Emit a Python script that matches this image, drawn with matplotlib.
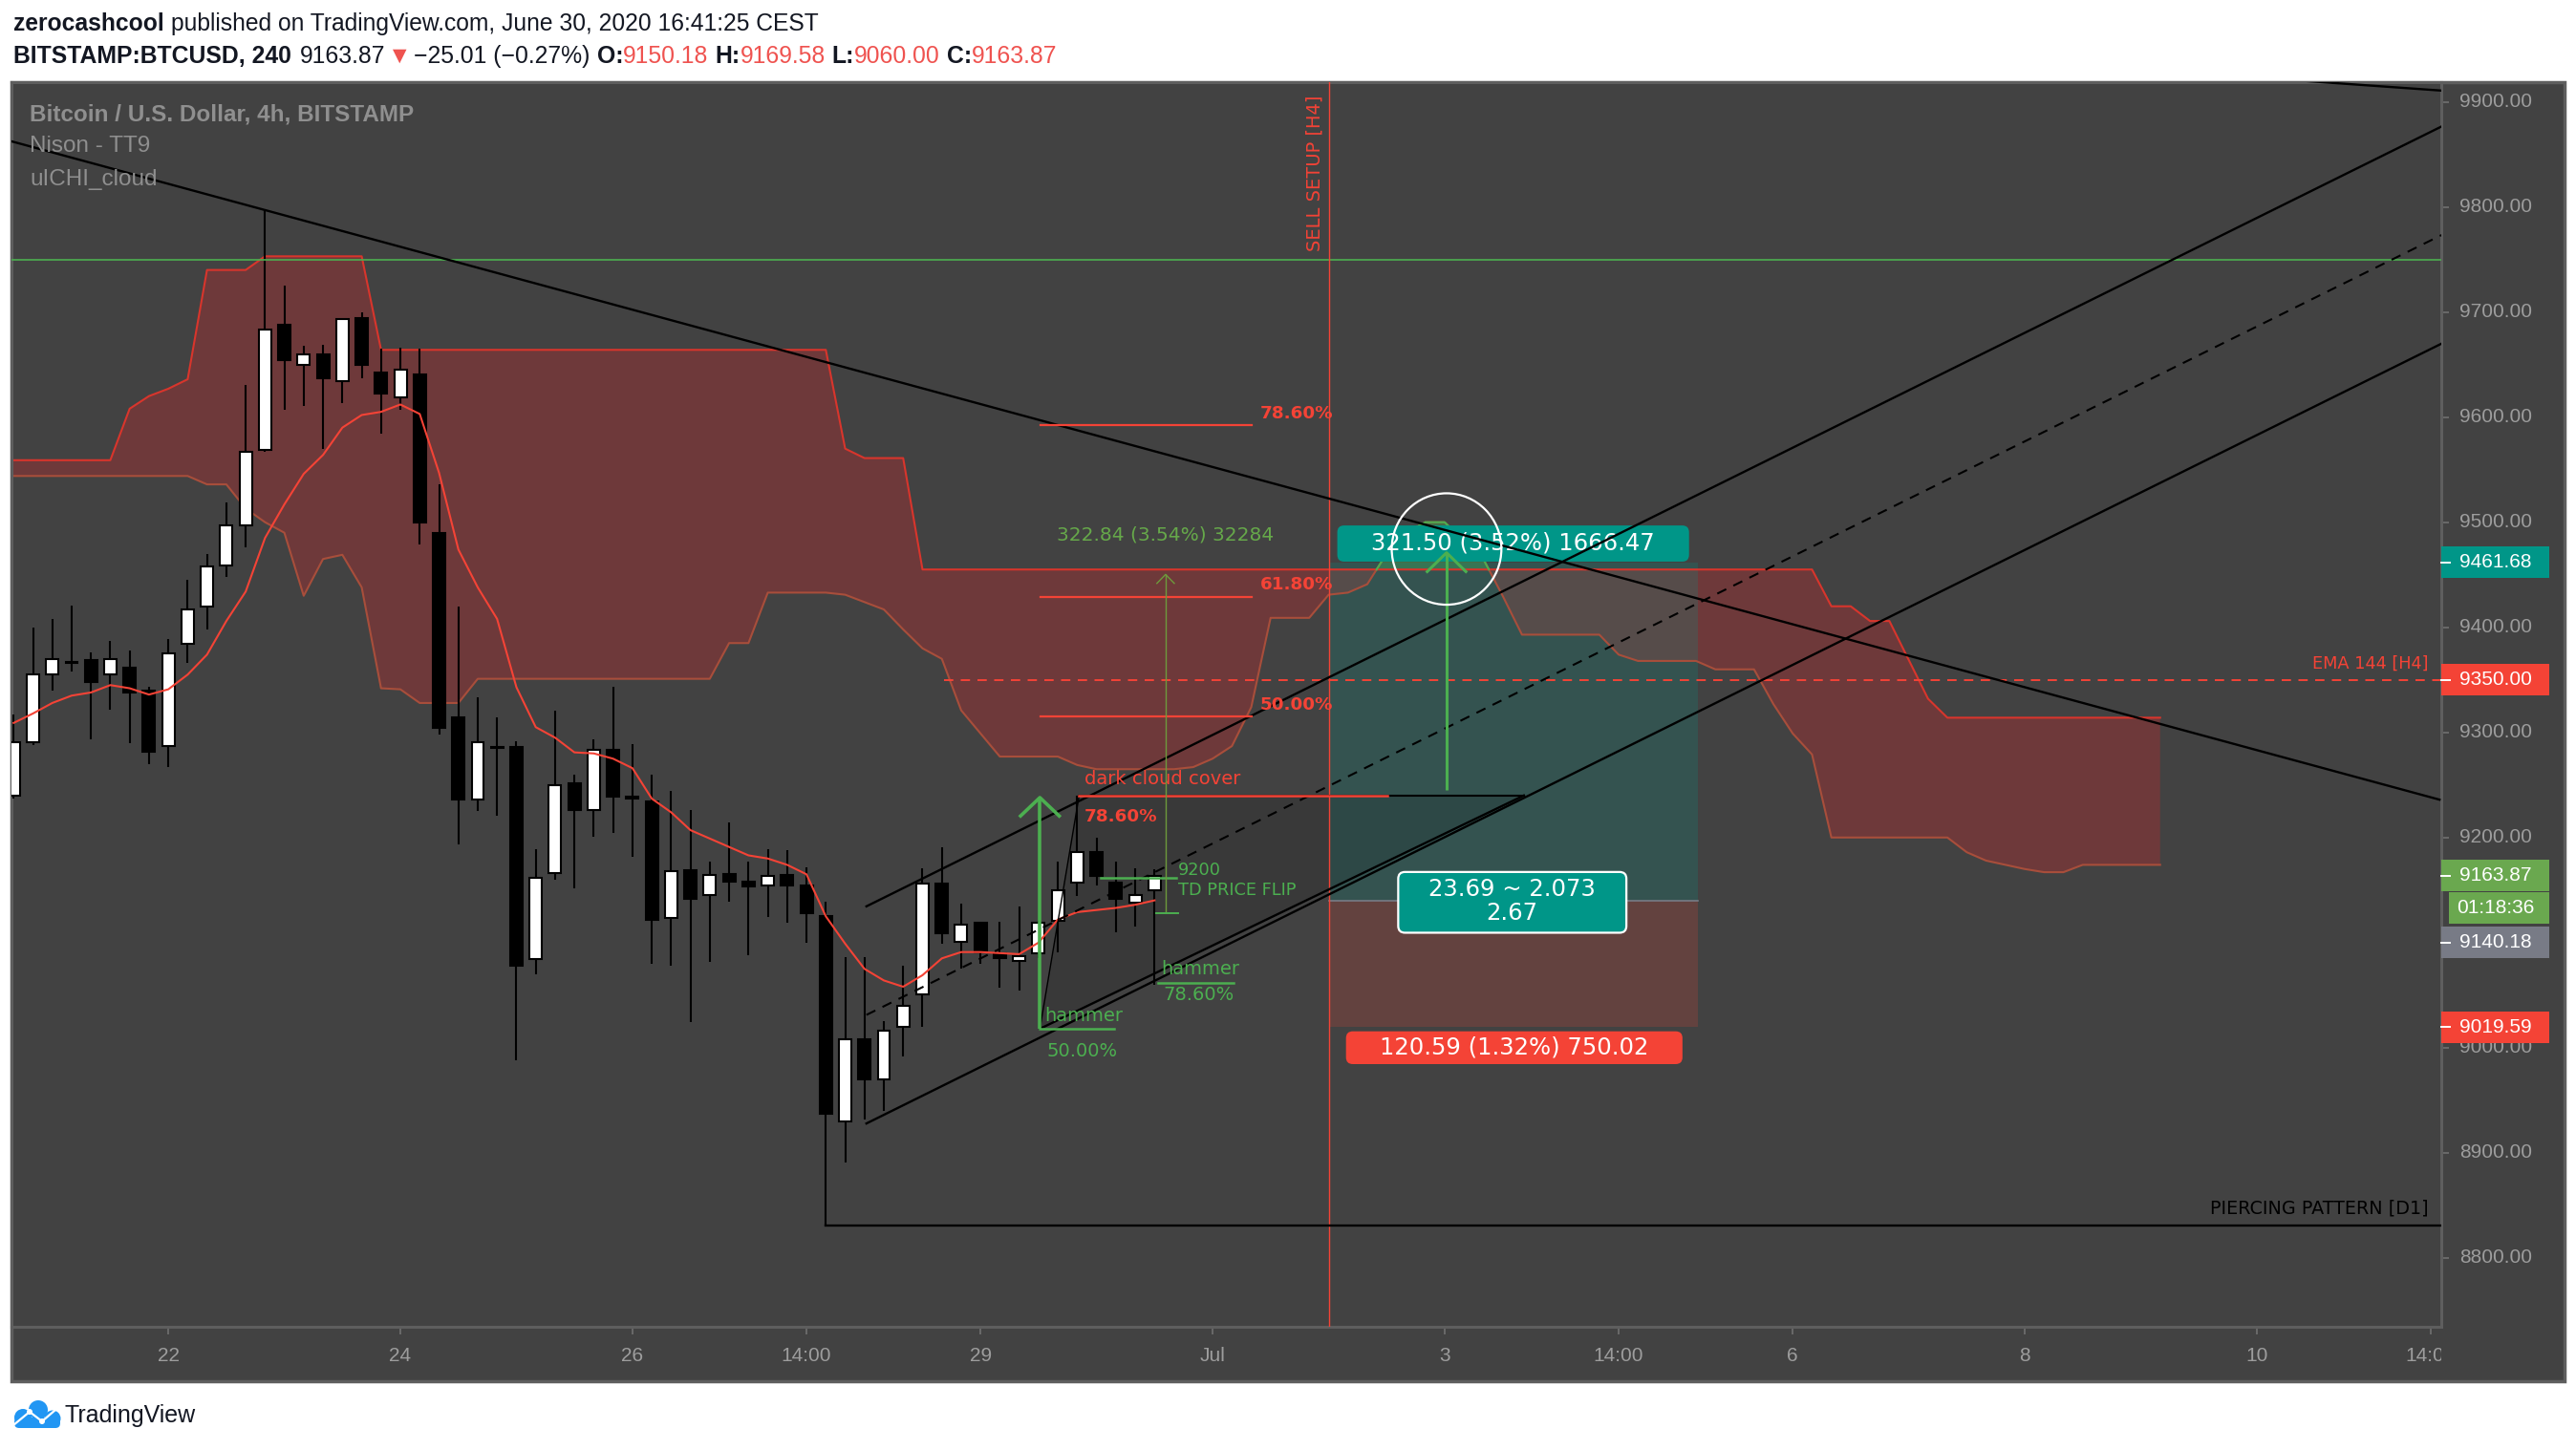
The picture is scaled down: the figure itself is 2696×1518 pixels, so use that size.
import numpy as np
import matplotlib
matplotlib.use('Agg')
import matplotlib.pyplot as plt
from matplotlib.patches import Rectangle, FancyBboxPatch, Ellipse, Polygon, Circle
from matplotlib.transforms import Bbox, TransformedBbox, IdentityTransform

plt.rcParams['font.family'] = ['Liberation Sans', 'DejaVu Sans']

# ---------------- data ----------------
bar_index = list(range(60))
opens = [9240, 9291, 9355, 9367, 9369, 9355, 9362, 9340, 9287, 9384,
         9420, 9459, 9497, 9569, 9688, 9650, 9660, 9634, 9694, 9642,
         9619, 9641, 9490, 9314, 9236, 9285, 9286, 9084, 9166, 9252,
         9226, 9283, 9239, 9234, 9123, 9169, 9145, 9165, 9158, 9154,
         9164, 9154, 9125, 8930, 9008, 8970, 9020, 9051, 9156, 9101,
         9119, 9090, 9083, 9090, 9121, 9157, 9186, 9157, 9138, 9150.18]
highs = [9317, 9400, 9408, 9421, 9376, 9387, 9378, 9343, 9389, 9445,
         9470, 9519, 9631, 9798, 9725, 9668, 9669, 9694, 9700, 9665,
         9666, 9665, 9536, 9420, 9333, 9314, 9292, 9189, 9321, 9260,
         9293, 9343, 9289, 9260, 9244, 9226, 9177, 9214, 9177, 9189,
         9188, 9172, 9139, 9086, 9086, 9025, 9078, 9171, 9191, 9137,
         9119, 9120, 9134, 9121, 9177, 9240, 9200, 9177, 9171, 9169.58]
lows = [9237, 9288, 9340, 9358, 9293, 9322, 9290, 9270, 9267, 9366,
        9398, 9448, 9476, 9567, 9607, 9611, 9570, 9613, 9637, 9584,
        9607, 9479, 9298, 9193, 9225, 9221, 8988, 9070, 9160, 9152,
        9201, 9204, 9182, 9080, 9078, 9024, 9082, 9139, 9088, 9124,
        9119, 9100, 8831, 8891, 8932, 8940, 8992, 9020, 9099, 9075,
        9080, 9057, 9054, 9085, 9091, 9144, 9154, 9110, 9115, 9060.00]
closes = [9291, 9355, 9370, 9366, 9348, 9370, 9338, 9282, 9375, 9417,
          9458, 9497, 9567, 9683, 9654, 9660, 9637, 9693, 9650, 9622,
          9645, 9500, 9304, 9236, 9291, 9286, 9078, 9162, 9250, 9226,
          9283, 9239, 9237, 9122, 9168, 9142, 9164, 9158, 9153, 9163,
          9154, 9128, 8937, 9008, 8970, 9016, 9040, 9156, 9109, 9117,
          9091, 9085, 9087, 9119, 9150, 9186, 9163, 9142, 9145, 9163.87]
ema_fast = [9309, 9318, 9328, 9335, 9338, 9345, 9342, 9336, 9341, 9355,
            9374, 9406, 9434, 9485, 9517, 9546, 9564, 9590, 9602, 9605,
            9612, 9603, 9547, 9474, 9438, 9408, 9343, 9305, 9295, 9281,
            9280, 9275, 9266, 9237, 9224, 9207, 9199, 9191, 9183, 9180,
            9174, 9165, 9125, 9099, 9075, 9064, 9058, 9069, 9085, 9091,
            9091, 9090, 9089, 9100, 9122, 9129, 9131, 9133, 9136, 9140.18]

cloud_index = list(range(-1, 112))
span_a = [9544, 9544, 9544, 9544, 9544, 9544, 9544, 9544, 9544, 9544, 9544,
          9536, 9536, 9513, 9500, 9490, 9430, 9465, 9469, 9438, 9342, 9341,
          9328, 9328, 9328,
          9351, 9351, 9351, 9351, 9351, 9351, 9351, 9351, 9351, 9351, 9351, 9351, 9351,
          9385, 9385, 9433, 9433, 9433, 9433,
          9431, 9424, 9417, 9398, 9380, 9370, 9321, 9299,
          9277, 9277, 9277, 9277, 9269, 9265, 9265, 9265, 9265, 9265,
          9267, 9275, 9287, 9324, 9409, 9409, 9409, 9431, 9433, 9441,
          9470, 9490, 9500, 9500, 9482, 9465, 9430,
          9393, 9393, 9393, 9393, 9393, 9374, 9368, 9368, 9368, 9368,
          9360, 9360, 9360, 9327, 9299, 9279,
          9200, 9200, 9200, 9200, 9200, 9200, 9200,
          9186, 9178, 9174, 9170, 9167, 9167, 9174, 9174, 9174, 9174, 9174]
span_b = [9559, 9559, 9559, 9559, 9559, 9559, 9559,
          9608, 9620, 9627, 9636, 9740, 9740, 9740,
          9753, 9753, 9753, 9753, 9753, 9753,
          9664, 9664, 9664, 9664, 9664, 9664, 9664, 9664, 9664, 9664, 9664, 9664,
          9664, 9664, 9664, 9664, 9664, 9664, 9664, 9664, 9664, 9664, 9664, 9664,
          9570, 9561, 9561, 9561,
          9455, 9455, 9455, 9455, 9455, 9455, 9455, 9455, 9455, 9455,
          9455, 9455, 9455, 9455, 9455, 9455, 9455, 9455, 9455, 9455,
          9455, 9455, 9455, 9455, 9455, 9455, 9455, 9455, 9455, 9455,
          9455, 9455, 9455, 9455, 9455, 9455, 9455, 9455, 9455, 9455,
          9455, 9455, 9455, 9455, 9455, 9455, 9455,
          9420, 9420, 9406, 9406, 9369, 9332,
          9314, 9314, 9314, 9314, 9314, 9314, 9314, 9314, 9314, 9314, 9314, 9314]

price_ticks = [8800, 8900, 9000, 9100, 9200, 9300, 9400, 9500, 9600, 9700, 9800, 9900]
time_tick_pos = [8, 20, 32, 41, 50, 62, 74, 83, 92, 104, 116, 125]
time_tick_labels = ['22', '24', '26', '14:00', '29', 'Jul', '3', '14:00', '6', '8', '10', '14:00']

# drawings
resistance_level = 9750
ema144_level = 9350
ema144_start = 48.1
sell_setup_bar = 68.05
trend_x = [13, 125.45]
trend_y = [9797, 9236]
upper_trend_x = [113, 126]
upper_trend_y = [9927.0, 9910.1]
channel_x = [44.1, 125.55]
channel_upper = [9134.5, 9876.5]
channel_mid = [9031.2, 9773.2]
channel_lower = [8927.9, 9669.9]
piercing_start = 42
piercing_level = 8831
fib_x = [53.1, 64.0]
fib_levels = [9592, 9429, 9315]
fib_labels = ['78.60%', '61.80%', '50.00%']
dark_cloud_x = [55.1, 71.05]
dark_cloud_level = 9240
triangle_x = [53.07, 55.1, 78.1]
triangle_y = [9018, 9240, 9240]
hammer1_x = [53.07, 56.9]
hammer1_level = 9018
hammer2_x = [59.2, 63.1]
hammer2_level = 9062
td_flip_x = [56.2, 60.1]
td_flip_level = 9162
arrow1 = (53.07, 9018, 9238)
arrow2 = (74.1, 9245, 9471)
measure = (59.57, 9128, 9450.3)
measure_tick_x = [59.1, 60.2]
position_x = [68.05, 87.1]
entry_price = 9140.18
target_price = 9461.68
stop_price = 9019.59
circle_center = (74.1, 9474.5)
circle_size = (5.67, 106)

# ---------------- figure ----------------
FW, FH = 2696, 1518
fig = plt.figure(figsize=(FW / 100, FH / 100), dpi=100)
fig.patch.set_facecolor('white')
W, H = 1568.0, 883.0


def fx(x):
    return x / W


def fy(y):
    return 1 - y / H


BG = '#424242'
GRID = '#5e5e5e'
frame = Rectangle((fx(7), fy(841)), fx(1561) - fx(7), fy(50) - fy(841),
                  transform=fig.transFigure, facecolor=BG, edgecolor=GRID, lw=2.5, zorder=-5)
fig.patches.append(frame)

ax = fig.add_axes([fx(7), fy(808), fx(1486) - fx(7), fy(50) - fy(808)])
ax.set_zorder(1)
ax.set_facecolor(BG)
ax.set_xlim(-0.11, 125.54)
ax.set_ylim(8734.4, 9918.75)
for s in ax.spines.values():
    s.set_color(GRID)
    s.set_linewidth(2.2)

ax.yaxis.tick_right()
ax.set_yticks(price_ticks)
ax.set_yticklabels([])
ax.set_xticks(time_tick_pos)
ax.set_xticklabels([])
ax.tick_params(axis='both', length=6, width=1.2, color='#707070', direction='out')

AXC = '#9d9d9d'
for p in price_ticks:
    ax.text(1.0075, p, f'{p:.2f}', transform=ax.get_yaxis_transform(), ha='left', va='center',
            fontsize=15, color=AXC, clip_on=False, zorder=3)
for pos, lab in zip(time_tick_pos, time_tick_labels):
    t = ax.text(pos, -0.0237, lab, transform=ax.get_xaxis_transform(), ha='center', va='center',
                fontsize=15, color=AXC, clip_on=True)
    t.set_clip_path(None)
    t.set_clip_box(TransformedBbox(Bbox([[-0.01, -0.2], [1.0, 1.0]]), ax.transAxes))
    t.set_clip_on(True)

# ---------------- ichimoku cloud ----------------
cxi = np.array(cloud_index, float)
ca = np.array(span_a, float)
cb = np.array(span_b, float)
ax.fill_between(cxi, ca, cb, where=ca <= cb, interpolate=True,
                color=(0.80, 0.15, 0.17, 0.32), lw=0, zorder=1)
ax.fill_between(cxi, ca, cb, where=ca > cb, interpolate=True,
                color=(0.30, 0.69, 0.31, 0.40), lw=0, zorder=1)
ax.plot(cxi, cb, color='#d8352c', lw=1.5, zorder=1.6)
ax.plot(cxi, ca, color='#a84e3b', lw=1.5, zorder=1.6)
gx, gy = [], []
for i in range(len(cxi)):
    if i > 0:
        d0 = ca[i - 1] - cb[i - 1]
        d1 = ca[i] - cb[i]
        if d0 * d1 < 0:
            tt = d0 / (d0 - d1)
            gx.append(cxi[i - 1] + tt)
            gy.append(ca[i - 1] + tt * (ca[i] - ca[i - 1]))
            if d1 < 0:
                gx.append(np.nan)
                gy.append(np.nan)
    if ca[i] > cb[i]:
        gx.append(cxi[i])
        gy.append(ca[i])
ax.plot(gx, gy, color='#4caf50', lw=1.5, zorder=1.7)

# ---------------- position tool ----------------
pw = position_x[1] - position_x[0]
ax.add_patch(Rectangle((position_x[0], entry_price), pw, target_price - entry_price,
                       facecolor=(0.0, 0.59, 0.53, 0.21), lw=0, zorder=1.2))
ax.add_patch(Rectangle((position_x[0], stop_price), pw, entry_price - stop_price,
                       facecolor=(0.96, 0.26, 0.21, 0.19), lw=0, zorder=1.2))
ax.plot(position_x, [entry_price, entry_price], color='#787b86', lw=1.2, zorder=1.3)

ax.add_patch(Polygon(list(zip(triangle_x, triangle_y)), closed=True,
                     facecolor=(0, 0, 0, 0.12), edgecolor='none', zorder=1.4))

# ---------------- candles ----------------
xi = np.array(bar_index, float)
o = np.array(opens, float)
h = np.array(highs, float)
l = np.array(lows, float)
c = np.array(closes, float)
ax.vlines(xi, l, h, color='black', lw=1.5, zorder=4)
up = c >= o
ax.bar(xi[up], (c - o)[up], bottom=o[up], width=0.64, color='white', edgecolor='black', lw=1.5, zorder=5)
ax.bar(xi[~up], (o - c)[~up], bottom=c[~up], width=0.64, color='black', edgecolor='black', lw=1.5, zorder=5)
ax.plot(xi, ema_fast, color='#f44336', lw=1.5, zorder=6)

# ---------------- drawings ----------------
RED = '#f44336'
GRN = '#4caf50'
LW = 1.7
ax.axhline(resistance_level, color=GRN, lw=1.2, zorder=7)
ax.plot([ema144_start, 126], [ema144_level, ema144_level], color=RED, lw=1.4,
        ls=(0, (5, 4)), zorder=7)
ax.axvline(sell_setup_bar, color=RED, lw=1.0, zorder=7)
ax.text(sell_setup_bar - 0.75, 9832, 'SELL SETUP [H4]', rotation=90, ha='center', va='center',
        fontsize=14, color=RED, family=['DejaVu Sans'], zorder=8)

slope = (trend_y[1] - trend_y[0]) / (trend_x[1] - trend_x[0])
ax.plot([-0.2, trend_x[0], trend_x[1]], [trend_y[0] + slope * (-0.2 - trend_x[0]), trend_y[0], trend_y[1]],
        color='black', lw=LW, zorder=7)
ax.plot(upper_trend_x, upper_trend_y, color='black', lw=LW, zorder=7)
ax.plot(channel_x, channel_upper, color='black', lw=LW, zorder=7)
ax.plot(channel_x, channel_lower, color='black', lw=LW, zorder=7)
ax.plot(channel_x, channel_mid, color='black', lw=1.5, ls=(0, (5, 4)), zorder=7)
ax.plot([piercing_start, 126], [piercing_level, piercing_level], color='black', lw=LW, zorder=7)
ax.text(124.87, piercing_level + 16, 'PIERCING PATTERN [D1]', ha='right', va='center',
        fontsize=13.8, color='black', family=['DejaVu Sans'], zorder=8)
ax.text(124.87, ema144_level + 15.6, 'EMA 144 [H4]', ha='right', va='center',
        fontsize=12.8, color=RED, family=['DejaVu Sans'], zorder=8)

ax.plot([triangle_x[1], triangle_x[0]], [triangle_y[1], triangle_y[0]], color='black', lw=1.0, zorder=7)
ax.plot([triangle_x[0], triangle_x[2]], [triangle_y[0], triangle_y[2]], color='black', lw=LW, zorder=7)
ax.plot([triangle_x[1], triangle_x[2]], [triangle_y[1], triangle_y[2]], color='black', lw=1.5, zorder=7)

for lev, lab in zip(fib_levels, fib_labels):
    ax.plot(fib_x, [lev, lev], color=RED, lw=1.6, zorder=7)
    ax.text(fib_x[1] + 0.45, lev + 11.5, lab, ha='left', va='center', fontsize=13.2,
            color=RED, fontweight='bold', family=['DejaVu Sans'], zorder=8)
ax.plot(dark_cloud_x, [dark_cloud_level, dark_cloud_level], color=RED, lw=1.8, zorder=7.5)
ax.text(55.37, dark_cloud_level + 16, 'dark cloud cover', ha='left', va='center', fontsize=14,
        color=RED, family=['DejaVu Sans'], zorder=8)
ax.text(55.37, dark_cloud_level - 20, '78.60%', ha='left', va='center', fontsize=13.2,
        color=RED, fontweight='bold', family=['DejaVu Sans'], zorder=8)

ax.plot(hammer1_x, [hammer1_level] * 2, color=GRN, lw=1.8, zorder=7)
ax.plot(hammer2_x, [hammer2_level] * 2, color=GRN, lw=1.8, zorder=7)
ax.plot(td_flip_x, [td_flip_level] * 2, color=GRN, lw=1.8, zorder=7)
ax.text(53.33, hammer1_level + 12, 'hammer', ha='left', va='center', fontsize=14, color=GRN,
        family=['DejaVu Sans'], zorder=8)
ax.text(53.4, hammer1_level - 21, '50.00%', ha='left', va='center', fontsize=14, color=GRN,
        family=['DejaVu Sans'], zorder=8)
ax.text(59.36, hammer2_level + 13, 'hammer', ha='left', va='center', fontsize=14, color=GRN,
        family=['DejaVu Sans'], zorder=8)
ax.text(59.44, hammer2_level - 12, '78.60%', ha='left', va='center', fontsize=14, color=GRN,
        family=['DejaVu Sans'], zorder=8)
ax.text(60.2, td_flip_level + 7, '9200', ha='left', va='center', fontsize=12.8, color=GRN,
        family=['DejaVu Sans'], zorder=8)
ax.text(60.2, td_flip_level - 12, 'TD PRICE FLIP', ha='left', va='center', fontsize=12.8, color=GRN,
        family=['DejaVu Sans'], zorder=8)


def chevron_arrow(x, y0, y1, color, lw, adx, ady):
    ax.plot([x, x], [y0, y1], color=color, lw=lw, zorder=8, solid_capstyle='butt')
    ax.plot([x - adx, x, x + adx], [y1 - ady, y1, y1 - ady], color=color, lw=lw, zorder=8)


chevron_arrow(arrow1[0], arrow1[1], arrow1[2], GRN, 2.6, 1.0, 17.5)
chevron_arrow(arrow2[0], arrow2[1], arrow2[2], GRN, 2.2, 1.0, 18.0)
OLV = '#6d9a3c'
chevron_arrow(measure[0], measure[1], measure[2], OLV, 1.0, 0.45, 8.5)
ax.plot(measure_tick_x, [measure[1]] * 2, color=GRN, lw=1.4, zorder=8)
ax.text(measure[0], 9487.5, '322.84 (3.54%) 32284', ha='center', va='center', fontsize=14.5,
        color='#66a84a', family=['DejaVu Sans'], zorder=8)

ax.add_patch(Ellipse(circle_center, circle_size[0], circle_size[1], fill=False,
                     edgecolor='white', lw=1.6, zorder=9))

ASP = 18.4
ax.add_patch(FancyBboxPatch((68.45, 9462.5), 86.64 - 68.45, 9496.9 - 9462.5,
                            boxstyle='round,pad=0,rounding_size=0.35', mutation_aspect=ASP,
                            facecolor='#009688', edgecolor='none', zorder=6.7))
ax.text(77.54, 9480, '321.50 (3.52%) 1666.47', ha='center', va='center', fontsize=17.5,
        color='white', family=['DejaVu Sans'], zorder=6.8)
ax.add_patch(FancyBboxPatch((68.9, 8984.4), 86.3 - 68.9, 9015.6 - 8984.4,
                            boxstyle='round,pad=0,rounding_size=0.35', mutation_aspect=ASP,
                            facecolor='#f44336', edgecolor='none', zorder=9))
ax.text(77.6, 9000, '120.59 (1.32%) 750.02', ha='center', va='center', fontsize=17.5,
        color='white', family=['DejaVu Sans'], zorder=10)
ax.add_patch(FancyBboxPatch((71.6, 9109.4), 83.4 - 71.6, 9167.2 - 9109.4,
                            boxstyle='round,pad=0,rounding_size=0.35', mutation_aspect=ASP,
                            facecolor='#009688', edgecolor='white', lw=1.6, zorder=9))
ax.text(77.5, 9151, '23.69 ~ 2.073', ha='center', va='center', fontsize=17.5,
        color='white', family=['DejaVu Sans'], zorder=10)
ax.text(77.5, 9128, '2.67', ha='center', va='center', fontsize=17.5,
        color='white', family=['DejaVu Sans'], zorder=10)

# ---------------- price-axis labels ----------------
label_boxes = [(target_price, f'{target_price:.2f}', '#009688', True),
               (ema144_level, f'{ema144_level:.2f}', '#f44336', True),
               (closes[-1], f'{closes[-1]:.2f}', '#6aa84f', True),
               (closes[-1] - 31, '01:18:36', '#6aa84f', False),
               (ema_fast[-1] - 40, f'{ema_fast[-1]:.2f}', '#787b86', True),
               (stop_price, f'{stop_price:.2f}', '#f44336', True)]
yt = ax.get_yaxis_transform()
for py, txt, col, dash in label_boxes:
    x0 = 1.0 if dash else 1.003
    ax.add_patch(Rectangle((x0, py - 15), 1.0443 - x0, 30, transform=yt, facecolor=col,
                           edgecolor='none', clip_on=False, zorder=11))
    if dash:
        ax.plot([1.0, 1.0035], [py, py], transform=yt, color='white', lw=1.4, clip_on=False, zorder=12)
    ax.text(1.0225, py, txt, transform=yt, ha='center', va='center', fontsize=15, color='white',
            clip_on=False, zorder=12)

# ---------------- chart legend texts ----------------
pix = IdentityTransform()
fig.text(31 / FW, 1 - 120 / FH, 'Bitcoin / U.S. Dollar, 4h, BITSTAMP', fontsize=17.5,
         fontweight='bold', color='#8f8f8f', va='center', ha='left', zorder=5)
fig.text(31 / FW, 1 - 153 / FH, 'Nison - TT9', fontsize=17.5, color='#8f8f8f', va='center', ha='left', zorder=5)
fig.text(31 / FW, 1 - 188 / FH, 'uICHI_cloud', fontsize=17.5, color='#8f8f8f', va='center', ha='left', zorder=5)

# ---------------- header ----------------
renderer = fig.canvas.get_renderer()
BLK = '#131722'
HRED = '#ef5350'


def draw_runs(runs, x_pix, base_pix, size):
    x = x_pix
    gap = 0.28 * size * 100 / 72
    for s, weight, color, g in runs:
        x += g * gap
        t = fig.text(x / FW, base_pix / FH, s, fontsize=size, fontweight=weight, color=color,
                     va='baseline', ha='left')
        bb = t.get_window_extent(renderer=renderer)
        x = bb.x1


draw_runs([('zerocashcool', 'bold', BLK, 0),
           ('published on TradingView.com, June 30, 2020 16:41:25 CEST', 'normal', BLK, 1)],
          14, FH - 32, 17.7)
draw_runs([('BITSTAMP:BTCUSD, 240', 'bold', BLK, 0),
           (f'{closes[-1]:.2f}', 'normal', BLK, 1.3),
           ('\u25bc', 'normal', HRED, 0.4),
           ('\u221225.01 (\u22120.27%)', 'normal', BLK, 0.4),
           ('O:', 'bold', BLK, 1), (f'{opens[-1]:.2f}', 'normal', HRED, 0),
           ('H:', 'bold', BLK, 1), (f'{highs[-1]:.2f}', 'normal', HRED, 0),
           ('L:', 'bold', BLK, 1), (f'{lows[-1]:.2f}', 'normal', HRED, 0),
           ('C:', 'bold', BLK, 1), (f'{closes[-1]:.2f}', 'normal', HRED, 0)],
          14, FH - 66, 17.8)

# ---------------- TradingView logo ----------------
LB = '#2196f3'
for (cx_, cy_, r_) in [(40, 1476, 10), (24, 1484, 9), (55, 1485, 8.5)]:
    fig.patches.append(Circle((cx_, FH - cy_), r_, transform=pix, facecolor=LB, edgecolor='none'))
fig.patches.append(FancyBboxPatch((15, FH - 1495), 48, 11, boxstyle='round,pad=0,rounding_size=5',
                                  transform=pix, facecolor=LB, edgecolor='none'))
lx = [14, 31, 44, 58]
ly = [1492, 1478, 1488, 1476]
fig.lines.append(plt.Line2D(lx, [FH - v for v in ly], transform=pix, color='white', lw=1.6))
for (px_, py_) in [(31, 1478), (44, 1488)]:
    fig.patches.append(Circle((px_, FH - py_), 3, transform=pix, facecolor='white', edgecolor='none'))
fig.text(68 / FW, 1 - 1482 / FH, 'TradingView', fontsize=18, color=BLK, va='center', ha='left')

fig.savefig('out.png', dpi=100, facecolor='white')
